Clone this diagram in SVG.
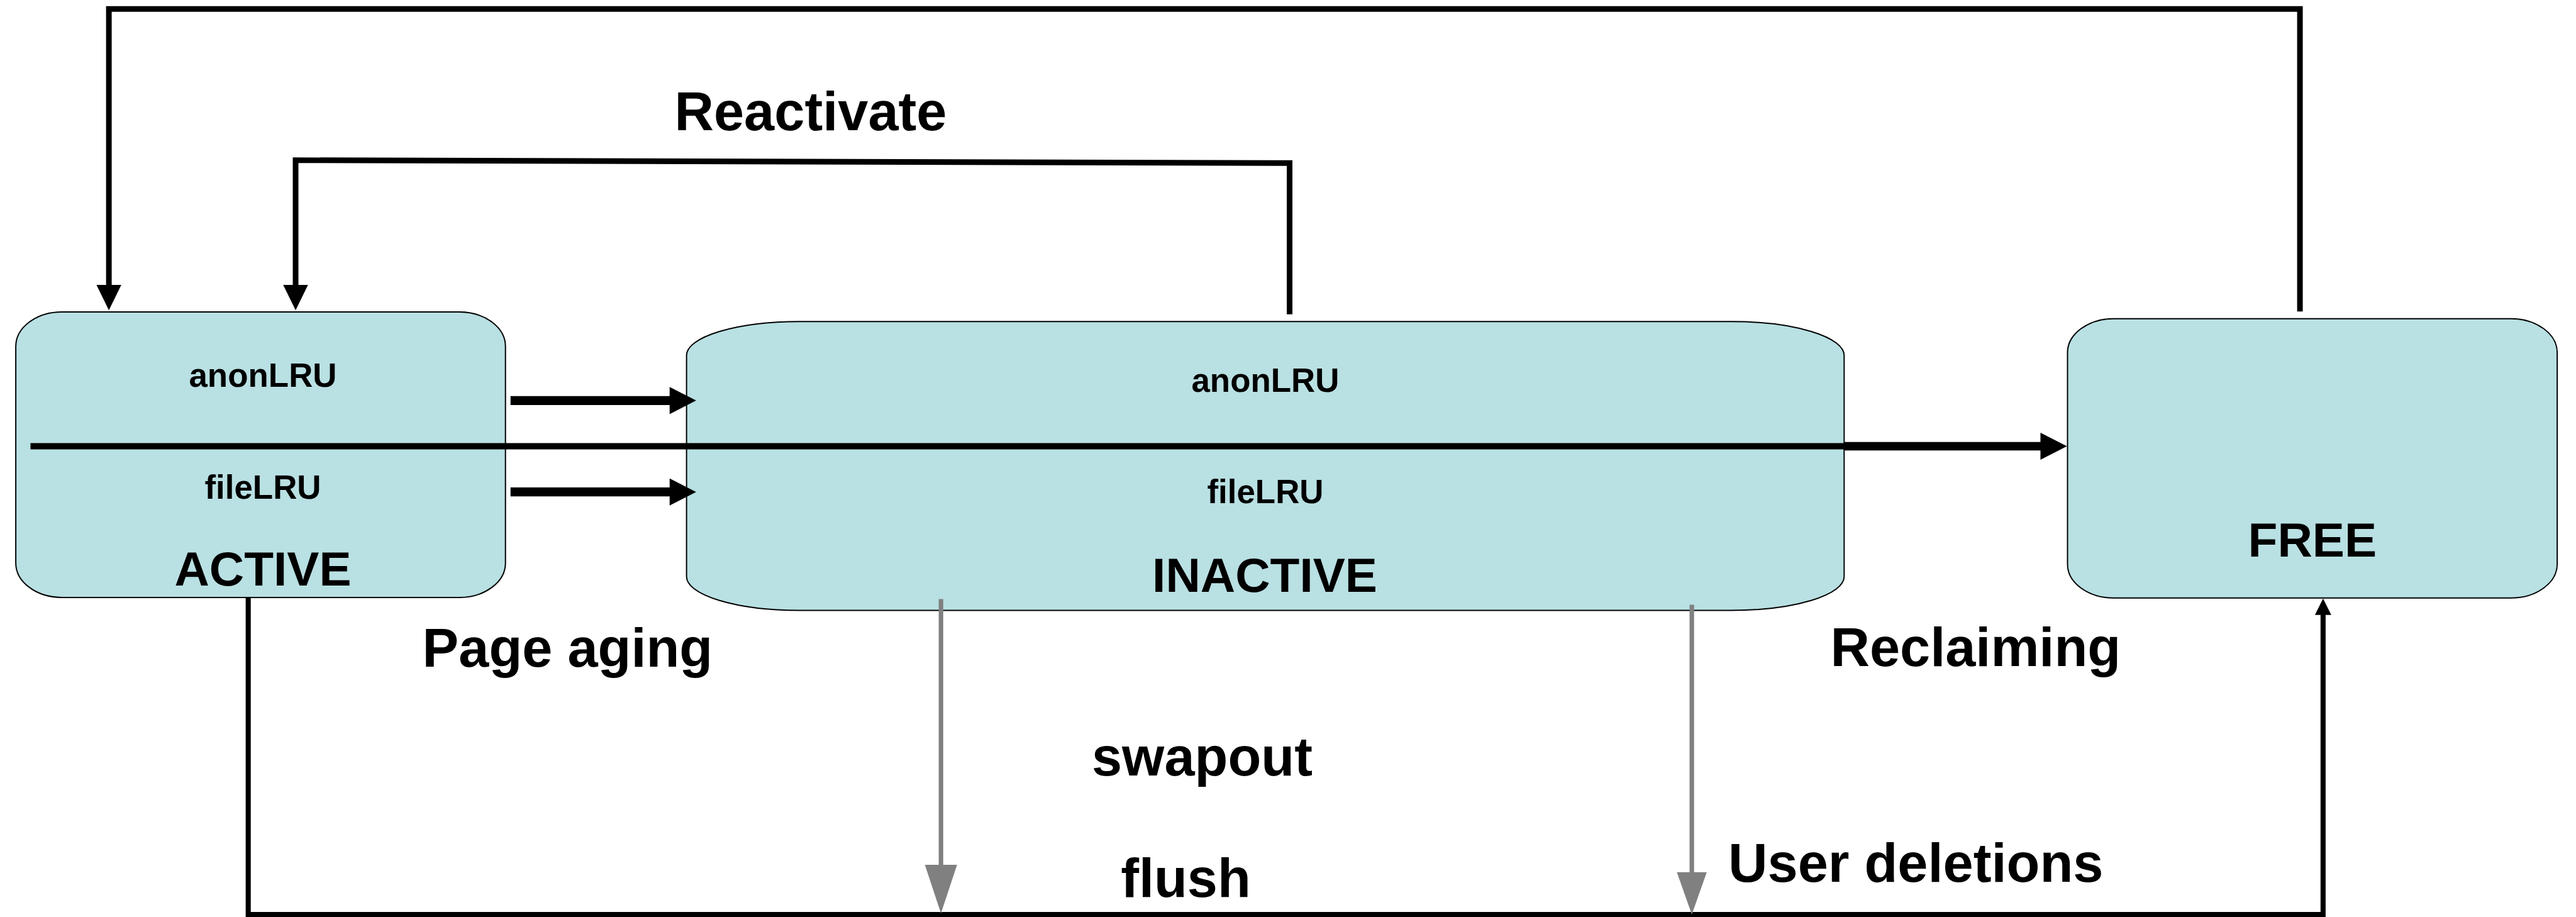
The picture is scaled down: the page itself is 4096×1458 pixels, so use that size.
<svg xmlns="http://www.w3.org/2000/svg" width="4096" height="1458" viewBox="0 0 4096 1458">
<style>
.box{fill:#b9e0e3;stroke:#000;stroke-width:2.2}
.t{font-family:"Liberation Sans",Arial,sans-serif;font-weight:bold;fill:#000;text-anchor:middle}
.lru{font-size:59px}
.title{font-size:85.5px}
.lbl{font-size:96.5px}
.c{fill:none;stroke:#000;stroke-linejoin:miter}
.g{fill:none;stroke:#808080}
</style>
<defs>
<marker id="hLoop" markerUnits="userSpaceOnUse" markerWidth="50" markerHeight="50" refX="1" refY="22" orient="auto" overflow="visible"><path d="M0,0 L45,22 L0,44 Z" fill="#000"/></marker>
<marker id="hFat" markerUnits="userSpaceOnUse" markerWidth="50" markerHeight="50" refX="1" refY="24" orient="auto" overflow="visible"><path d="M0,0 L47,24 L0,48 Z" fill="#000"/></marker>
<marker id="hSmall" markerUnits="userSpaceOnUse" markerWidth="32" markerHeight="32" refX="1" refY="14.5" orient="auto" overflow="visible"><path d="M0,0 L29,14.5 L0,29 Z" fill="#000"/></marker>
<marker id="hGray1" markerUnits="userSpaceOnUse" markerWidth="90" markerHeight="60" refX="1" refY="28.5" orient="auto" overflow="visible"><path d="M0,0 L86,28.5 L0,57 Z" fill="#808080"/></marker>
<marker id="hGray2" markerUnits="userSpaceOnUse" markerWidth="80" markerHeight="56" refX="1" refY="26.5" orient="auto" overflow="visible"><path d="M0,0 L75,26.5 L0,53 Z" fill="#808080"/></marker>
</defs>
<rect width="4096" height="1458" fill="#fff"/>
<g transform="scale(0.897)">
<g id="node-active">
<rect class="box" x="28" y="553" width="868" height="506" rx="82" ry="61"/>
</g>
<g id="node-inactive">
<rect class="box" x="1217" y="570" width="2052" height="512" rx="200" ry="60"/>
</g>
<g id="node-free">
<rect class="box" x="3665" y="565" width="868" height="495" rx="82" ry="60"/>
</g>
<g id="connectors">
<path class="c" stroke-width="10" d="M4077,552 V16 H193 V506" marker-end="url(#hLoop)"/>
<path class="c" stroke-width="10" d="M2286,557 V289 L524,284 V506" marker-end="url(#hLoop)"/>
<path class="c" stroke-width="16" d="M905,710 H1188" marker-end="url(#hFat)"/>
<path class="c" stroke-width="16" d="M905,872 H1188" marker-end="url(#hFat)"/>
<path class="c" stroke-width="11" d="M54,791 H3270"/>
<path class="c" stroke-width="15" d="M3269,791 H3618" marker-end="url(#hFat)"/>
<path class="c" stroke-width="9" d="M440,1059 V1621 H4118 V1089" marker-end="url(#hSmall)"/>
<path class="g" stroke-width="8" d="M1668,1062 V1534" marker-end="url(#hGray1)"/>
<path class="g" stroke-width="8" d="M2999,1072 V1547" marker-end="url(#hGray2)"/>
</g>
<g id="labels-active">
<text class="t lru" x="466" y="686">anonLRU</text>
<text class="t lru" x="466" y="884">fileLRU</text>
<text class="t title" x="466" y="1038">ACTIVE</text>
</g>
<g id="labels-inactive">
<text class="t lru" x="2243" y="695">anonLRU</text>
<text class="t lru" x="2243" y="892">fileLRU</text>
<text class="t title" x="2242" y="1049">INACTIVE</text>
</g>
<g id="labels-free">
<text class="t title" x="4099" y="987">FREE</text>
</g>
<g id="edge-labels">
<text class="t lbl" x="1437" y="231">Reactivate</text>
<text class="t lbl" x="1006" y="1182">Page aging</text>
<text class="t lbl" x="3502" y="1181">Reclaiming</text>
<text class="t lbl" x="2131" y="1375">swapout</text>
<text class="t lbl" x="2102" y="1590">flush</text>
<text class="t lbl" x="3396" y="1563">User deletions</text>
</g>
</g>
</svg>
